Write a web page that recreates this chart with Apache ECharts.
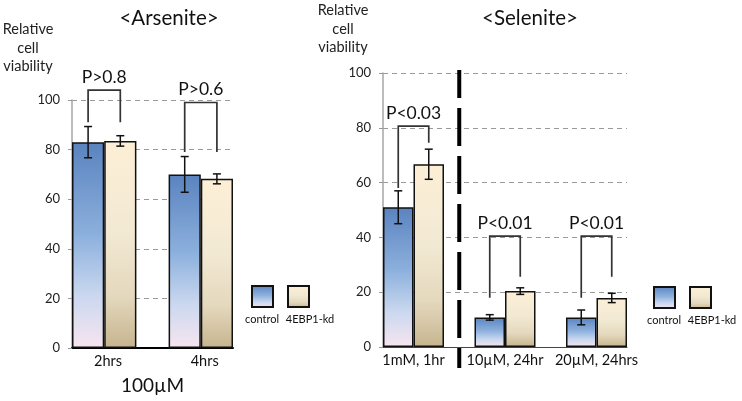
<!DOCTYPE html>
<html><head><meta charset="utf-8">
<script src="https://cdn.jsdelivr.net/npm/echarts@6/dist/echarts.min.js"></script>
<style>html,body{margin:0;padding:0;background:#fff}#c{width:742px;height:401px}</style>
</head><body><div id="c"></div>
<script>
// ---------- Arsenite panel ----------
const arsGroups = ['2hrs', '4hrs'];
const arsControl = [83, 70];
const arsControlErr = [6.3, 7.2];
const arsKd = [83.5, 68.2];
const arsKdErr = [2.1, 2.0];
const arsP = ['P>0.8', 'P>0.6'];
const arsBracketTop = [104, 99];
const arsBracketLeftEnd = [91, 79];
const arsBracketRightEnd = [91, 79];

// ---------- Selenite panel ----------
const selGroups = ['1mM, 1hr', '10µM, 24hr', '20µM, 24hrs'];
const selControl = [51, 10.8, 10.8];
const selControlErr = [6, 1, 2.7];
const selKd = [66.7, 20.4, 17.9];
const selKdErr = [5.5, 1.2, 1.7];
const selP = ['P<0.03', 'P<0.01', 'P<0.01'];
const selBracketTop = [80.6, 40.5, 40.5];
const selBracketLeftEnd = [58, 18, 18];
const selBracketRightEnd = [74.5, 25.6, 25.6];
const selSeparatorAfterGroup = [0];

const yTicks = [0, 20, 40, 60, 80, 100];
const seriesNames = ['control', '4EBP1-kd'];
const arsXName = '100µM';
const titles = ['<Arsenite>', '<Selenite>'];
const yName = 'Relative\ncell\nviability';

// ---------- helpers ----------
const FONT = 'Lato, "Noto Sans", sans-serif';
const SLOTS_PER_GROUP = 3; // control, kd, gap
const nSlots = n => n * SLOTS_PER_GROUP - 1;
const ctrlSlot = g => g * SLOTS_PER_GROUP;
const kdSlot = g => g * SLOTS_PER_GROUP + 1;

function slotData(n, vals, slotFn) {
  const arr = new Array(nSlots(n)).fill('-');
  vals.forEach((v, g) => { arr[slotFn(g)] = v; });
  return arr;
}
const grad = stops => new echarts.graphic.LinearGradient(0, 0, 0, 1,
  stops.map(s => ({ offset: s[0], color: s[1] })));
const ctrlFill = () => grad([[0, '#5a83bf'], [0.45, '#8cb0dd'], [0.75, '#cbd8ef'], [1, '#f7e5ef']]);
const kdFill = () => grad([[0, '#fdefd6'], [0.45, '#f2e9d3'], [0.75, '#e4d8bd'], [1, '#c6b48e']]);

function errData(n, ctrl, ctrlErr, kd, kdErr) {
  const d = [];
  for (let g = 0; g < n; g++) {
    d.push([ctrlSlot(g), ctrl[g], ctrlErr[g]]);
    d.push([kdSlot(g), kd[g], kdErr[g]]);
  }
  return d;
}
function renderErr(params, api) {
  const x = api.value(0), v = api.value(1), e = api.value(2);
  const t = api.coord([x, v + e]), b = api.coord([x, v - e]);
  const c = 4, st = { stroke: '#111', lineWidth: 1.5 };
  return { type: 'group', children: [
    { type: 'line', shape: { x1: t[0], y1: t[1], x2: b[0], y2: b[1] }, style: st },
    { type: 'line', shape: { x1: t[0] - c, y1: t[1], x2: t[0] + c, y2: t[1] }, style: st },
    { type: 'line', shape: { x1: b[0] - c, y1: b[1], x2: b[0] + c, y2: b[1] }, style: st }
  ]};
}
function bracketData(n, top, le, re) {
  const d = [];
  for (let g = 0; g < n; g++) d.push([ctrlSlot(g), kdSlot(g), top[g], le[g], re[g]]);
  return d;
}
const makeBracketRender = (labels) => (params, api) => {
  const xl = api.value(0), xr = api.value(1), top = api.value(2), le = api.value(3), re = api.value(4);
  const pL = api.coord([xl, le]), pT = api.coord([xl, top]), pR = api.coord([xr, top]), pRe = api.coord([xr, re]);
  return { type: 'group', children: [
    { type: 'polyline', shape: { points: [[pL[0], pL[1]], [pT[0], pT[1]], [pR[0], pR[1]], [pRe[0], pRe[1]]] },
      style: { stroke: '#333', lineWidth: 1.7, fill: null } },
    { type: 'text', x: (pT[0] + pR[0]) / 2, y: pT[1] - 13,
      style: { text: labels[params.dataIndex], font: '17.5px ' + FONT, fill: '#111', align: 'center', verticalAlign: 'middle' } }
  ]};
};
function renderSep(params, api) {
  const s = api.value(0);
  const t = api.coord([s, yTicks[yTicks.length - 1]]), b = api.coord([s, 0]);
  return { type: 'line', shape: { x1: t[0], y1: t[1] - 3, x2: b[0], y2: b[1] + 21 },
    style: { stroke: '#000', lineWidth: 4, lineDash: [38, 10], lineDashOffset: 10 } };
}

const yAxisBase = (gi, gap, padRight) => ({
  type: 'value', gridIndex: gi, min: 0, max: 100, interval: 20,
  axisLine: { show: true, onZero: false, lineStyle: { color: '#a6a6a6', width: 1.5 } },
  axisTick: { show: true, length: 4, lineStyle: { color: '#999' } },
  axisLabel: { fontSize: 13, color: '#222', margin: 12, fontFamily: FONT },
  splitLine: { show: true, lineStyle: { color: '#9a9a9a', type: [5, 4], width: 1 } },
  name: yName, nameLocation: 'end', nameGap: gap,
  nameTextStyle: { fontSize: 14.5, lineHeight: 18.5, color: '#222', align: 'center', fontFamily: FONT, padding: [0, padRight, 0, 0] }
});

const catAxis = (gi, n, lineStyle) => ({
  type: 'category', gridIndex: gi, data: new Array(nSlots(n)).fill(0).map((_, i) => 's' + i),
  boundaryGap: true, axisLine: { show: true, onZero: false, lineStyle }, axisTick: { show: false }, axisLabel: { show: false },
  splitLine: { show: false }
});
const labelAxis = (gi, groups, shift, extra) => Object.assign({
  type: 'value', gridIndex: gi, position: 'bottom', min: -0.5, max: nSlots(groups.length) - 0.5,
  axisLine: { show: false, onZero: false }, axisTick: { show: false }, splitLine: { show: false },
  axisLabel: {
    customValues: groups.map((_, g) => ctrlSlot(g) + 0.5 + shift),
    formatter: v => groups[Math.round((v - 0.5 - shift) / SLOTS_PER_GROUP)],
    fontSize: 14.5, color: '#111', margin: 6, fontFamily: FONT
  }
}, extra || {});

const barBase = { type: 'bar', barWidth: '100%', barGap: '-100%', barCategoryGap: '0%',
  itemStyle: { borderColor: '#111', borderWidth: 1.5 } };

const chart = echarts.init(document.getElementById('c'), null, { renderer: 'canvas' });

function legendGraphic(x, y) {
  return [
    { type: 'rect', shape: { x: x, y: y, width: 21, height: 21 }, style: { fill: ctrlFill(), stroke: '#111', lineWidth: 2 } },
    { type: 'rect', shape: { x: x + 36, y: y, width: 21, height: 21 }, style: { fill: kdFill(), stroke: '#111', lineWidth: 2 } },
    { type: 'text', x: x + 10, y: y + 33, style: { text: seriesNames[0], font: '11px ' + FONT, fill: '#111', align: 'center', verticalAlign: 'middle' } },
    { type: 'text', x: x + 58, y: y + 33, style: { text: seriesNames[1], font: '11px ' + FONT, fill: '#111', align: 'center', verticalAlign: 'middle' } }
  ];
}

chart.setOption({
  animation: false,
  backgroundColor: '#fff',
  textStyle: { fontFamily: FONT },
  grid: [
    { left: 72, top: 100, width: 161, height: 248, outerBoundsMode: 'none' },
    { left: 383, top: 73, width: 244, height: 274, outerBoundsMode: 'none' }
  ],
  xAxis: [
    catAxis(0, arsGroups.length, { color: '#000', width: 2 }),
    labelAxis(0, arsGroups, 0.12, { name: arsXName, nameLocation: 'middle', nameGap: 28,
      nameTextStyle: { fontSize: 19, color: '#111', fontFamily: FONT } }),
    catAxis(1, selGroups.length, { color: '#444', width: 1 }),
    labelAxis(1, selGroups, 0)
  ],
  yAxis: [yAxisBase(0, 24, 88), yAxisBase(1, 16, 80)],
  graphic: [
    { type: 'text', x: 169, y: 18, style: { text: titles[0], font: '20.5px ' + FONT, fill: '#111', align: 'center', verticalAlign: 'middle' } },
    { type: 'text', x: 530, y: 18, style: { text: titles[1], font: '20.5px ' + FONT, fill: '#111', align: 'center', verticalAlign: 'middle' } }
  ].concat(legendGraphic(252, 286), legendGraphic(654, 287)),
  series: [
    Object.assign({}, barBase, { name: seriesNames[0], xAxisIndex: 0, yAxisIndex: 0,
      data: slotData(arsGroups.length, arsControl, ctrlSlot), itemStyle: Object.assign({}, barBase.itemStyle, { color: ctrlFill() }) }),
    Object.assign({}, barBase, { name: seriesNames[1], xAxisIndex: 0, yAxisIndex: 0,
      data: slotData(arsGroups.length, arsKd, kdSlot), itemStyle: Object.assign({}, barBase.itemStyle, { color: kdFill() }) }),
    Object.assign({}, barBase, { name: seriesNames[0], xAxisIndex: 2, yAxisIndex: 1,
      data: slotData(selGroups.length, selControl, ctrlSlot), itemStyle: Object.assign({}, barBase.itemStyle, { color: ctrlFill() }) }),
    Object.assign({}, barBase, { name: seriesNames[1], xAxisIndex: 2, yAxisIndex: 1,
      data: slotData(selGroups.length, selKd, kdSlot), itemStyle: Object.assign({}, barBase.itemStyle, { color: kdFill() }) }),
    { type: 'custom', xAxisIndex: 0, yAxisIndex: 0, clip: false, z: 5, encode: { x: 0, y: 1 },
      data: errData(arsGroups.length, arsControl, arsControlErr, arsKd, arsKdErr), renderItem: renderErr },
    { type: 'custom', xAxisIndex: 2, yAxisIndex: 1, clip: false, z: 5, encode: { x: 0, y: 1 },
      data: errData(selGroups.length, selControl, selControlErr, selKd, selKdErr), renderItem: renderErr },
    { type: 'custom', xAxisIndex: 0, yAxisIndex: 0, clip: false, z: 6, encode: { x: 0, y: 2 },
      data: bracketData(arsGroups.length, arsBracketTop, arsBracketLeftEnd, arsBracketRightEnd), renderItem: makeBracketRender(arsP) },
    { type: 'custom', xAxisIndex: 2, yAxisIndex: 1, clip: false, z: 6, encode: { x: 0, y: 2 },
      data: bracketData(selGroups.length, selBracketTop, selBracketLeftEnd, selBracketRightEnd), renderItem: makeBracketRender(selP) },
    { type: 'custom', xAxisIndex: 2, yAxisIndex: 1, clip: false, z: 7, encode: { x: 0 },
      data: selSeparatorAfterGroup.map(g => [g * SLOTS_PER_GROUP + 2]), renderItem: renderSep }
  ]
});
</script></body></html>
